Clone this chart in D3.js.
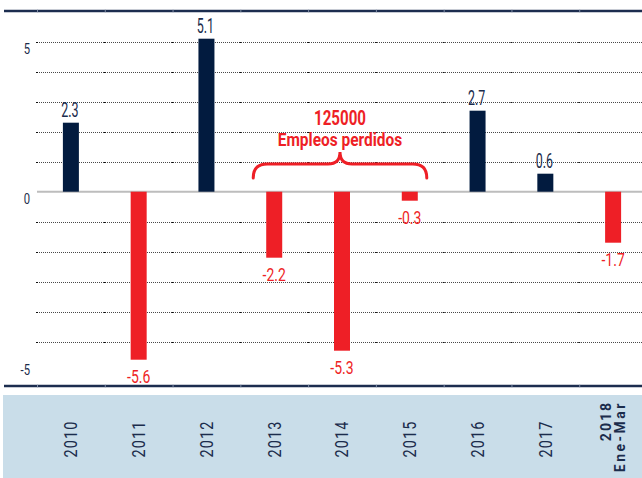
<!DOCTYPE html>
<html>
<head>
<meta charset="utf-8">
<script src="https://cdn.jsdelivr.net/npm/d3@7"></script>
<style>
  body { margin: 0; background: #fff; }
  svg { display: block; font-family: Roboto, "Liberation Sans", sans-serif; }
</style>
</head>
<body>
<script>
// Data
const years = ["2010", "2011", "2012", "2013", "2014", "2015", "2016", "2017", "2018"];
const yearSub = ["", "", "", "", "", "", "", "", "Ene-Mar"];
const values = [2.3, -5.6, 5.1, -2.2, -5.3, -0.3, 2.7, 0.6, -1.7];
const yTicks = [5, 0, -5];
const gridTicks = [5, 4, 3, 2, 1, -1, -2, -3, -4, -5];
const noteLines = ["125000", "Empleos perdidos"];
const noteFrom = "2013";
const noteTo = "2015";

const width = 642, height = 478;
const navy = "#021b3f", red = "#ee1f26", ink = "#1b2c4c";

const svg = d3.select("body").append("svg")
  .attr("width", width)
  .attr("height", height);

// Scales
const x = d3.scaleBand().domain(years).range([37, 647]).padding(0);
const y = d3.scaleLinear().domain([-5, 5]).range([341.7, 41.7]);
const barW = 16;
const cx = d => x(d) + x.bandwidth() / 2;

const topY = 11, bottomY = 386;

// condensed look: squeeze text horizontally
const squeeze = (px, py, sx) => `translate(${px},${py}) scale(${sx},1)`;

// Category band at the bottom
svg.append("rect")
  .attr("x", 3).attr("y", 395)
  .attr("width", width - 3).attr("height", height - 395)
  .attr("fill", "#c9dde9");

// Top and bottom frame lines
[topY, bottomY].forEach(yy => {
  svg.append("line")
    .attr("x1", 4).attr("x2", width)
    .attr("y1", yy).attr("y2", yy)
    .attr("stroke", "#1c2d4f")
    .attr("stroke-width", 2.5);
  // faint separators at band edges
  svg.selectAll(null).data(years).enter().append("line")
    .attr("x1", d => x(d)).attr("x2", d => x(d) + 1)
    .attr("y1", yy).attr("y2", yy)
    .attr("stroke", "#7d8aa3")
    .attr("stroke-width", 2.5);
});

// Dotted gridlines
svg.append("g").selectAll("line").data(gridTicks).enter().append("line")
  .attr("x1", 37).attr("x2", width)
  .attr("y1", d => Math.round(y(d)) + 0.5)
  .attr("y2", d => Math.round(y(d)) + 0.5)
  .attr("stroke", "#2a2a2a")
  .attr("stroke-width", 1)
  .attr("stroke-dasharray", "1,1")
  .attr("opacity", 0.85);

// darker marks where gridlines meet band edges
svg.append("g").selectAll("rect")
  .data(d3.cross(gridTicks, years))
  .enter().append("rect")
  .attr("x", d => x(d[1]) - 1)
  .attr("y", d => Math.round(y(d[0])))
  .attr("width", 2).attr("height", 1)
  .attr("fill", "#111");

// Zero line
svg.append("line")
  .attr("x1", 37).attr("x2", width)
  .attr("y1", y(0)).attr("y2", y(0))
  .attr("stroke", "#bdbdbd")
  .attr("stroke-width", 2);

// Y tick labels
svg.append("g").selectAll("text").data(yTicks).enter().append("text")
  .attr("transform", d => squeeze(30, d === d3.min(yTicks) ? bottomY - 11 : y(d) + 12, 0.75))
  .attr("text-anchor", "end")
  .attr("font-size", 15)
  .attr("fill", ink)
  .text(d => d);

// Bars
svg.append("g").selectAll("rect").data(years).enter().append("rect")
  .attr("x", d => cx(d) - barW / 2)
  .attr("width", barW)
  .attr("y", (d, i) => y(Math.max(0, values[i])))
  .attr("height", (d, i) => Math.abs(y(values[i]) - y(0)))
  .attr("fill", (d, i) => values[i] >= 0 ? navy : red);

// Value labels
svg.append("g").selectAll("text").data(years).enter().append("text")
  .attr("transform", (d, i) => {
    const v = values[i];
    return v >= 0
      ? squeeze(cx(d) - 1, y(v) - 6, 0.64)
      : squeeze(cx(d), y(v) + 23, 0.8);
  })
  .attr("text-anchor", "middle")
  .attr("font-size", (d, i) => values[i] >= 0 ? 19.5 : 17.5)
  .attr("fill", (d, i) => values[i] >= 0 ? ink : red)
  .text((d, i) => values[i]);

// Year labels (rotated)
const yearG = svg.append("g").selectAll("g").data(years).enter().append("g")
  .attr("transform", d => `translate(${cx(d)},439) rotate(-90)`);

yearG.filter((d, i) => !yearSub[i]).append("text")
  .attr("transform", "scale(0.8,1)")
  .attr("text-anchor", "middle")
  .attr("dy", "0.36em")
  .attr("font-size", 18)
  .attr("letter-spacing", 1.5)
  .attr("fill", ink)
  .text(d => d);

// last category: bold two-line label, aligned at the top
const lastG = yearG.filter((d, i) => yearSub[i]);
lastG.append("text")
  .attr("x", 38).attr("y", -7).attr("dy", "0.36em")
  .attr("text-anchor", "end")
  .attr("font-size", 14)
  .attr("font-weight", "bold")
  .attr("letter-spacing", 2)
  .attr("fill", ink)
  .text(d => d);
lastG.append("text")
  .attr("x", 38).attr("y", 7).attr("dy", "0.36em")
  .attr("text-anchor", "end")
  .attr("font-size", 14)
  .attr("font-weight", "bold")
  .attr("letter-spacing", 2.5)
  .attr("fill", ink)
  .text((d, i) => yearSub[years.indexOf(d)]);

// Brace annotation over the lost-jobs years
const bx0 = cx(noteFrom) - 21, bx1 = cx(noteTo) + 17;
const bm = (bx0 + bx1) / 2;
const yH = y(0.92), yT = y(1.32), yE = y(0.46);
const brace = d3.path();
brace.moveTo(bx0, yE);
brace.quadraticCurveTo(bx0, yH, bx0 + 14, yH);
brace.lineTo(bm - 12, yH);
brace.quadraticCurveTo(bm, yH, bm, yT);
brace.quadraticCurveTo(bm, yH, bm + 12, yH);
brace.lineTo(bx1 - 14, yH);
brace.quadraticCurveTo(bx1, yH, bx1, yE);

svg.append("path")
  .attr("d", brace.toString())
  .attr("fill", "none")
  .attr("stroke", red)
  .attr("stroke-width", 3)
  .attr("stroke-linecap", "round");

svg.append("g").selectAll("text").data(noteLines).enter().append("text")
  .attr("transform", (d, i) => squeeze(bm, y(2.22) + i * 21, i === 0 ? 0.72 : 0.86))
  .attr("text-anchor", "middle")
  .attr("font-size", (d, i) => i === 0 ? 21 : 18)
  .attr("font-weight", "bold")
  .attr("fill", red)
  .text(d => d);
</script>
</body>
</html>
